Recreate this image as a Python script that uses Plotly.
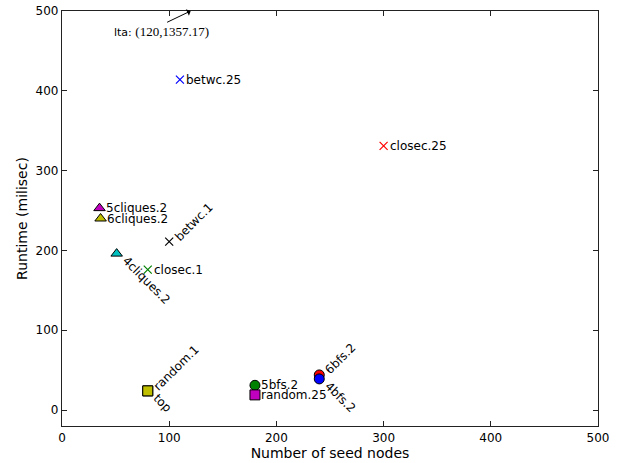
import plotly.graph_objects as go

labels = ["betwc.25", "closec.25", "5cliques.2", "6cliques.2", "4cliques.2", "betwc.1",
          "closec.1", "random.1", "top", "5bfs.2", "random.25", "6bfs.2", "4bfs.2"]
seed_nodes = [110, 300, 35, 36, 51, 100, 80, 80, 80, 180, 180, 240, 240]
runtime = [414, 331, 253, 240, 196, 211, 176, 24, 24, 31, 19, 44, 39]
symbols = ["x-thin", "x-thin", "triangle-up", "triangle-up", "triangle-up", "x-thin",
           "x-thin", "square", "square", "circle", "square", "circle", "circle"]
colors = ["#0000ff", "#ff0000", "#bf00bf", "#bfbf00", "#00bfbf", "#000000",
          "#008000", "#bfbf00", "#bfbf00", "#008000", "#bf00bf", "#ff0000", "#0000ff"]
# label direction: 0 = horizontal, 1 = up-right, -1 = down-right
label_dir = [0, 0, 0, 0, -1, 1, 0, 1, -1, 0, 0, 1, -1]

lta_point = (120, 1357.17)
lta_text_pos = (93, 474)

fig = go.Figure()
for i in range(len(labels)):
    is_x = symbols[i].startswith("x")
    fig.add_trace(go.Scatter(
        x=[seed_nodes[i]], y=[runtime[i]], mode="markers",
        marker=dict(symbol=symbols[i], size=8 if is_x else 10, color=colors[i],
                    line=dict(width=1.2 if is_x else 1, color=colors[i] if is_x else "#000000")),
        showlegend=False, cliponaxis=False, hoverinfo="skip"))

annotations = []
for i in range(len(labels)):
    d = label_dir[i]
    a = dict(x=seed_nodes[i], y=runtime[i], text=labels[i], showarrow=False,
             font=dict(family="DejaVu Sans", size=12, color="#000000"))
    if d == 0:
        a.update(xanchor="left", yanchor="middle", xshift=4)
    elif d == 1:
        a.update(xanchor="left", yanchor="bottom", textangle=-45, xshift=0, yshift=-5)
    else:
        a.update(xanchor="left", yanchor="top", textangle=45, xshift=0, yshift=3)
    annotations.append(a)

# arrow toward the off-chart lta point (clamped at the top edge)
annotations.append(dict(
    x=lta_point[0], y=500, ax=-25, ay=12, showarrow=True, arrowhead=1, arrowsize=1.2,
    arrowwidth=1, arrowcolor="#000000", text=""))
annotations.append(dict(
    x=lta_text_pos[0], y=lta_text_pos[1], showarrow=False, xanchor="center", yanchor="middle",
    text="lta: <span style=\"font-family:'Liberation Serif'; font-size:13px\">(%d,%.2f)</span>" % lta_point,
    font=dict(family="DejaVu Sans", size=11, color="#000000")))

axis_common = dict(showline=True, linecolor="#222222", linewidth=1.2, mirror="ticks",
                   ticks="inside", ticklen=5, tickwidth=1, tickcolor="#222222",
                   showgrid=False, zeroline=False, automargin=False,
                   tickfont=dict(family="DejaVu Sans", size=12, color="#000000"))

fig.update_layout(
    width=625, height=463,
    margin=dict(l=62, r=27, t=11, b=37),
    plot_bgcolor="#ffffff", paper_bgcolor="#ffffff",
    xaxis=dict(range=[0, 500], tickvals=[0, 100, 200, 300, 400, 500],
               title=dict(text="Number of seed nodes", standoff=4,
                          font=dict(family="DejaVu Sans", size=14, color="#000000")),
               **axis_common),
    yaxis=dict(range=[-20, 500], tickvals=[0, 100, 200, 300, 400, 500],
               title=dict(text="Runtime (milisec)", standoff=4,
                          font=dict(family="DejaVu Sans", size=14, color="#000000")),
               **axis_common),
    annotations=annotations,
)

fig.write_html("out.html", config={"displayModeBar": False},
               post_script="document.body.style.margin='0';document.body.style.overflow='hidden';")
